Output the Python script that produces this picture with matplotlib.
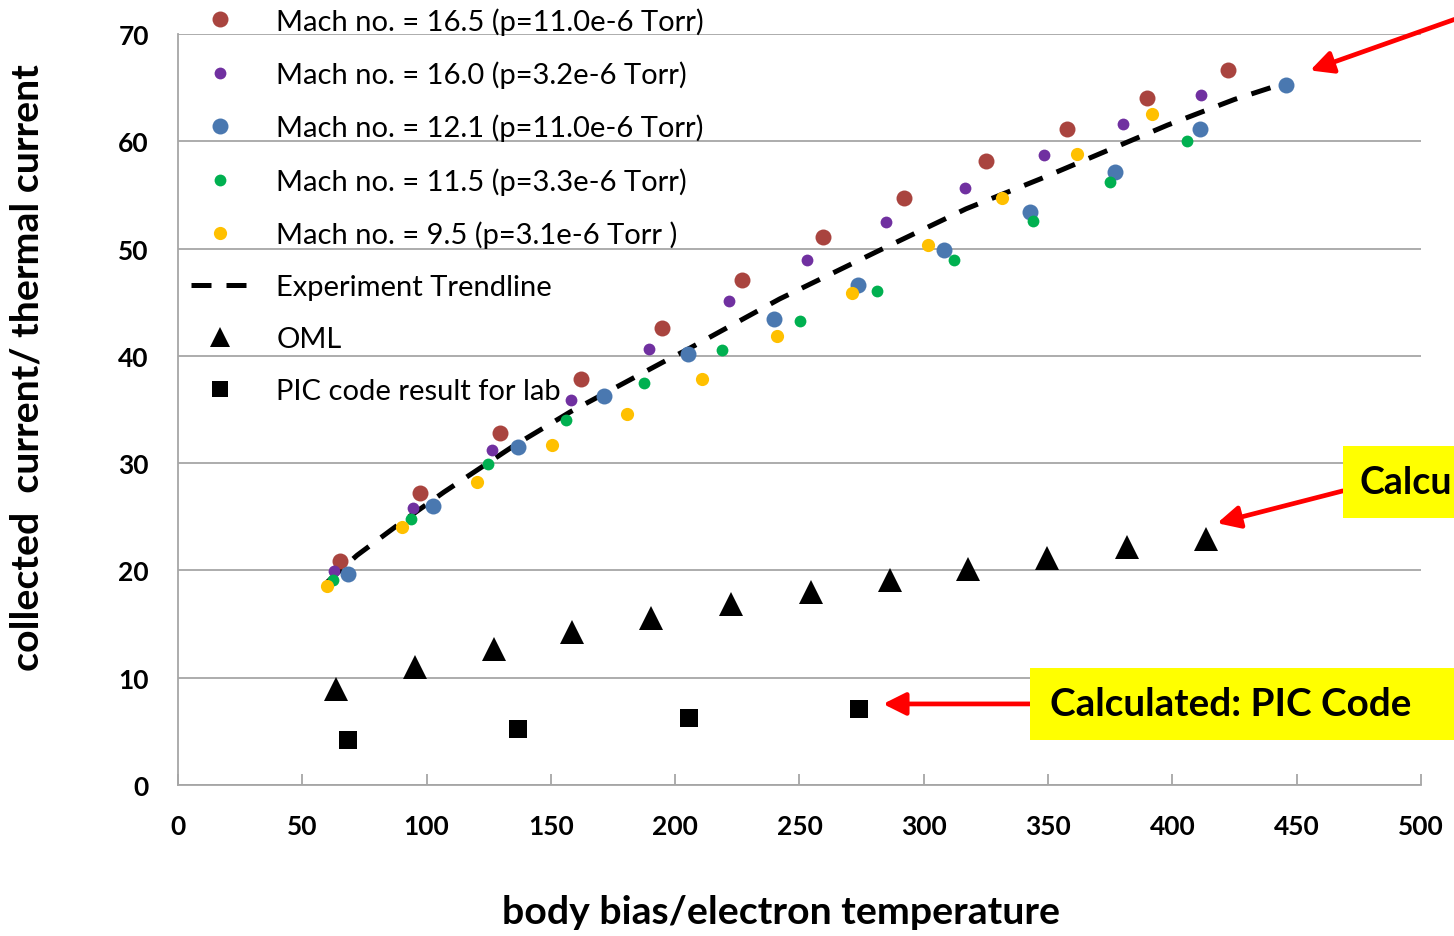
import matplotlib
matplotlib.use("Agg")
import matplotlib.pyplot as plt
from matplotlib.patches import Rectangle
from matplotlib.lines import Line2D

plt.rcParams["font.family"] = ["Lato", "DejaVu Sans"]

# experimental series (body bias / Te, collected / thermal current)
m165_x = [65.2, 97.4, 129.5, 162.1, 194.7, 226.9, 259.5, 292.1, 325.1, 357.6, 389.8, 422.4]
m165_y = [20.9, 27.2, 32.8, 37.8, 42.6, 47.1, 51.1, 54.7, 58.2, 61.1, 64.0, 66.6]

m160_x = [62.8, 94.5, 126.3, 158.1, 189.5, 221.7, 253.0, 284.8, 316.6, 348.4, 380.2, 411.5]
m160_y = [19.9, 25.8, 31.2, 35.9, 40.6, 45.1, 48.9, 52.5, 55.6, 58.7, 61.6, 64.3]

m121_x = [68.4, 102.6, 136.8, 171.4, 205.2, 239.8, 273.6, 308.2, 342.8, 377.0, 411.1, 445.7]
m121_y = [19.7, 26.0, 31.5, 36.3, 40.2, 43.4, 46.6, 49.9, 53.4, 57.1, 61.1, 65.2]

m115_x = [62.4, 93.7, 124.7, 156.1, 187.5, 218.9, 250.2, 281.2, 312.2, 344.0, 374.9, 405.9]
m115_y = [19.1, 24.8, 29.9, 34.0, 37.5, 40.5, 43.2, 46.0, 48.9, 52.6, 56.2, 60.0]

m95_x = [59.9, 90.1, 120.3, 150.5, 180.6, 210.8, 241.0, 271.1, 301.7, 331.5, 361.7, 391.9]
m95_y = [18.5, 24.0, 28.2, 31.7, 34.6, 37.8, 41.8, 45.9, 50.3, 54.7, 58.8, 62.5]

# trendline
trend_x = [60, 72, 90, 107, 135, 158, 195, 205, 242, 281, 317, 347, 398, 425, 441]
trend_y = [18.9, 21.4, 24.5, 27.3, 31.6, 34.8, 39.4, 40.6, 45.3, 49.7, 53.7, 56.5, 61.5, 63.9, 65.1]

oml_x = [63.6, 95.3, 127.1, 158.5, 190.3, 222.5, 254.7, 286.4, 317.8, 349.6, 381.8, 413.6]
oml_y = [8.9, 11.0, 12.7, 14.3, 15.6, 16.9, 18.0, 19.1, 20.1, 21.2, 22.2, 22.9]

pic_x = [68.4, 136.8, 205.6, 274.0]
pic_y = [4.2, 5.2, 6.2, 7.1]

labels = [
    "Mach no. = 16.5 (p=11.0e-6 Torr)",
    "Mach no. = 16.0 (p=3.2e-6 Torr)",
    "Mach no. = 12.1 (p=11.0e-6 Torr)",
    "Mach no. = 11.5 (p=3.3e-6 Torr)",
    "Mach no. = 9.5 (p=3.1e-6 Torr )",
    "Experiment Trendline",
    "OML",
    "PIC code result for lab",
]

dash = (0, (4.0, 3.0))

fig = plt.figure(figsize=(14.54, 9.37), dpi=100)
ax = fig.add_axes([0.1224, 0.1612, 0.8549, 0.8015])

ax.plot(trend_x, trend_y, linestyle=dash, color="black", linewidth=3.6, zorder=2)
ax.plot(m165_x, m165_y, "o", color="#A9443F", markersize=11.5, markeredgewidth=0, zorder=3)
ax.plot(m160_x, m160_y, "o", color="#7030A0", markersize=8.5, markeredgewidth=0, zorder=3)
ax.plot(m121_x, m121_y, "o", color="#4A78B0", markersize=11.5, markeredgewidth=0, zorder=3)
ax.plot(m115_x, m115_y, "o", color="#00B050", markersize=8.5, markeredgewidth=0, zorder=3)
ax.plot(m95_x, m95_y, "o", color="#FFC000", markersize=9.5, markeredgewidth=0, zorder=3)
ax.plot(oml_x, oml_y, "^", color="black", markersize=17, markeredgewidth=0, zorder=3)
ax.plot(pic_x, pic_y, "s", color="black", markersize=13.5, markeredgewidth=0, zorder=3)

ax.set_xlim(0, 500)
ax.set_ylim(0, 70)
ax.set_xticks(range(0, 501, 50))
ax.set_yticks(range(0, 71, 10))
ax.grid(axis="y", color="#A6A6A6", linewidth=1.3)
ax.set_axisbelow(True)
for s in ["top", "right"]:
    ax.spines[s].set_visible(False)
for s in ["left", "bottom"]:
    ax.spines[s].set_color("#A6A6A6")
    ax.spines[s].set_linewidth(1.3)
ax.tick_params(axis="x", direction="in", length=8, width=1.3, color="#A6A6A6", pad=21, labelsize=19)
ax.tick_params(axis="y", length=0, pad=21, labelsize=19)
plt.setp(ax.get_xticklabels() + ax.get_yticklabels(), fontweight="bold")

ax.set_xlabel("body bias/electron temperature", fontsize=28.3, fontweight="bold")
ax.xaxis.set_label_coords(0.485, -0.169)
ax.xaxis.label.set_va("center")
ax.set_ylabel("collected  current/ thermal current", fontsize=28.3, fontweight="bold")
ax.yaxis.set_label_coords(-0.1215, 0.5566)
ax.yaxis.label.set_va("center")

handles = [
    Line2D([], [], ls="", marker="o", color="#A9443F", markersize=11.5, markeredgewidth=0),
    Line2D([], [], ls="", marker="o", color="#7030A0", markersize=8.5, markeredgewidth=0),
    Line2D([], [], ls="", marker="o", color="#4A78B0", markersize=11.5, markeredgewidth=0),
    Line2D([], [], ls="", marker="o", color="#00B050", markersize=8.5, markeredgewidth=0),
    Line2D([], [], ls="", marker="o", color="#FFC000", markersize=9.5, markeredgewidth=0),
    Line2D([], [], linestyle=dash, color="black", linewidth=3.6),
    Line2D([], [], ls="", marker="^", color="black", markersize=15, markeredgewidth=0),
    Line2D([], [], ls="", marker="s", color="black", markersize=12, markeredgewidth=0),
]
leg = ax.legend(handles, labels, loc="upper left", bbox_to_anchor=(191 / 1454, 1 - 8 / 937),
                bbox_transform=fig.transFigure, frameon=False, fontsize=21,
                handlelength=2.0, handletextpad=0.93, labelspacing=0.885, borderaxespad=0,
                borderpad=0)

# yellow callouts
ax.add_patch(Rectangle((0.937, 0.3555), 0.2, 0.0959, transform=ax.transAxes,
                       facecolor="#FFFF00", edgecolor="none", clip_on=False, zorder=5))
ax.text(0.9505, 0.4035, "Calcu", transform=ax.transAxes, fontsize=27,
        fontweight="bold", va="center", ha="left", zorder=6, clip_on=False)
ax.add_patch(Rectangle((0.6854, 0.0599), 0.4, 0.0959, transform=ax.transAxes,
                       facecolor="#FFFF00", edgecolor="none", clip_on=False, zorder=5))
ax.text(0.7015, 0.1079, "Calculated: PIC Code", transform=ax.transAxes, fontsize=27.8,
        fontweight="bold", va="center", ha="left", zorder=6, clip_on=False)

arrow = dict(arrowstyle="-|>", color="#FF0000", lw=3.4, mutation_scale=34, shrinkA=0, shrinkB=0)
ax.annotate("", xy=(455.4, 66.6), xytext=(1.04, 1.027), xycoords="data",
            textcoords="axes fraction", arrowprops=arrow, annotation_clip=False)
ax.annotate("", xy=(418.0, 24.4), xytext=(0.937, 0.3915), xycoords="data",
            textcoords="axes fraction", arrowprops=arrow, annotation_clip=False)
ax.annotate("", xy=(283.6, 7.55), xytext=(0.6854, 0.1079), xycoords="data",
            textcoords="axes fraction", arrowprops=arrow, annotation_clip=False)

fig.savefig("out.png", dpi=100)
